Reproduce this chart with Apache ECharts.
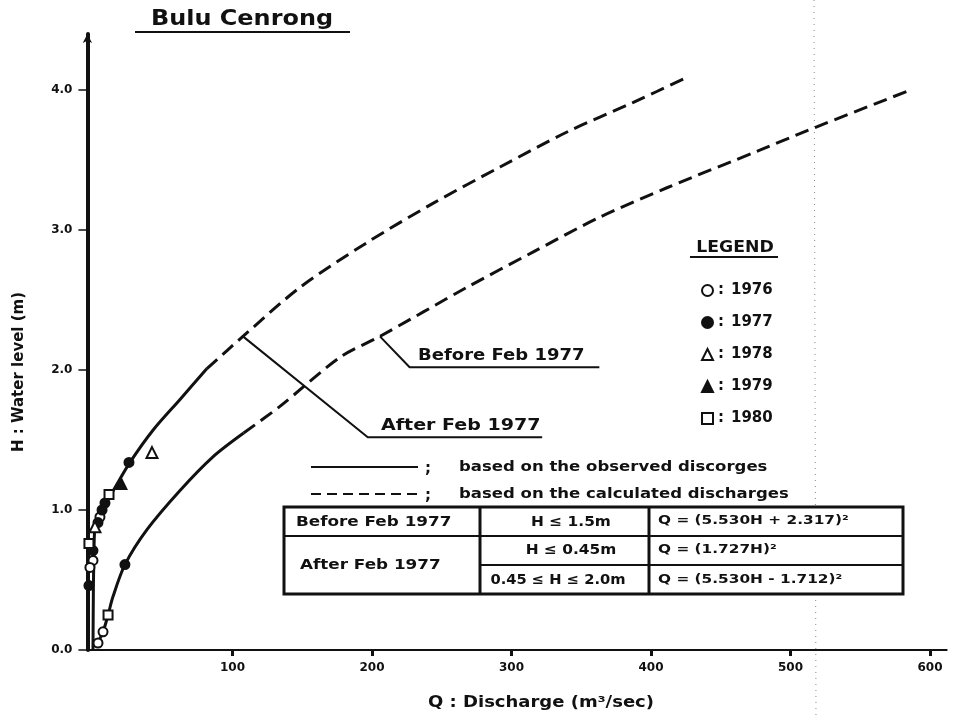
<!DOCTYPE html>
<html>
<head>
<meta charset="utf-8">
<title>Bulu Cenrong rating curves</title>
<script src="https://cdn.jsdelivr.net/npm/echarts@6/dist/echarts.min.js"></script>
<style>
  html, body { margin: 0; padding: 0; background: #fff; }
  #chart { width: 953px; height: 720px; }
</style>
</head>
<body>
<div id="chart"></div>
<script>
// ---- axis ticks ----
const xTicks = [100, 200, 300, 400, 500, 600];
const yTicks = [0, 1, 2, 3, 4];

// ---- rating curves, [Q (m3/sec), H (m)] ----
// After Feb 1977: observed (solid) part and calculated (dashed) extension
const afterObserved = [
  [0, 0], [0.3, 0.45], [0.6, 0.62], [1.4, 0.88], [6.2, 1.0], [14.6, 1.14],
  [26.5, 1.34], [43, 1.57], [62.4, 1.79], [81.7, 2.01]
];
const afterCalculated = [
  [81.7, 2.01], [107.5, 2.24], [148.4, 2.59], [196.4, 2.91], [243.7, 3.19],
  [291.8, 3.45], [339.8, 3.70], [387, 3.91], [425.8, 4.09]
];
// Before Feb 1977
const beforeObserved = [
  [2.9, 0.04], [7.2, 0.13], [10.8, 0.25], [14.3, 0.38], [22.9, 0.61],
  [38.7, 0.86], [62.4, 1.14], [86, 1.38], [108, 1.55]
];
const beforeCalculated = [
  [108, 1.55], [134, 1.74], [177, 2.09], [205.7, 2.24], [268, 2.59],
  [315, 2.84], [363, 3.09], [411, 3.30], [478, 3.57], [512, 3.71], [586, 4.0]
];

// ---- measured gaugings by year, [Q, H] ----
const pts1976 = [[5, 0.95], [0, 0.64], [-2.2, 0.59], [7.2, 0.13], [3.6, 0.05]];
const pts1977 = [[25.8, 1.34], [8.6, 1.05], [6.5, 1.0], [3.6, 0.91], [0, 0.71], [-2.9, 0.46], [22.9, 0.61]];
const pts1978 = [[42.3, 1.41], [1.4, 0.88]];
const pts1979 = [[20, 1.19]];
const pts1980 = [[11.5, 1.11], [-2.9, 0.76], [10.8, 0.25]];
const years = ['1976', '1977', '1978', '1979', '1980'];

// ---- callout leaders, [Q, H] ----
const afterLeader = [[107.5, 2.24], [197, 1.52], [322, 1.52]];
const beforeLeader = [[205.7, 2.24], [227, 2.02], [363, 2.02]];

const FONT = 'DejaVu Sans';
const INK = '#111';

function curve(data, dashed) {
  return {
    type: 'line', data: data, smooth: 0.3, symbol: 'none', showSymbol: false,
    silent: true, z: 3, clip: false,
    lineStyle: { color: INK, width: 3, type: dashed ? [14, 7] : 'solid', cap: 'butt' }
  };
}
function leader(data) {
  return {
    type: 'line', data: data, smooth: false, symbol: 'none', showSymbol: false,
    silent: true, z: 3, lineStyle: { color: INK, width: 2 }
  };
}
function gauging(name, data, symbol, filled, size) {
  return {
    type: 'scatter', name: name, data: data, symbol: symbol, symbolSize: size, z: 5,
    itemStyle: { color: filled ? INK : '#fff', borderColor: INK, borderWidth: 2, opacity: 1 }
  };
}
// text block; sx widens the lettering horizontally around its anchor
function txt(x, y, s, size, sx, align, rot) {
  return {
    type: 'text', x: x, y: y, silent: true,
    scaleX: rot ? 1 : (sx || 1), scaleY: rot ? (sx || 1) : 1,
    rotation: rot || 0,
    style: {
      text: s, fill: INK, font: 'bold ' + size + 'px "' + FONT + '"',
      align: align || 'left', textAlign: align || 'left',
      verticalAlign: 'middle', textVerticalAlign: 'middle'
    }
  };
}
function seg(x1, y1, x2, y2, w, dash) {
  return {
    type: 'line', silent: true,
    shape: { x1: x1, y1: y1, x2: x2, y2: y2 },
    style: { stroke: INK, lineWidth: w, lineDash: dash || null }
  };
}

const graphics = [
  // title
  txt(242, 20, 'Bulu Cenrong', 21, 1.14, 'center'),
  seg(135, 32, 350, 32, 2),
  // axis names
  txt(19, 372, 'H : Water level (m)', 15, 1, 'center', Math.PI / 2),
  txt(541, 703, 'Q : Discharge (m³/sec)', 15, 1.2, 'center'),
  // legend heading
  txt(735, 248, 'LEGEND', 15, 1.15, 'center'),
  seg(690, 257, 778, 257, 2),
  // line style key
  seg(311, 467, 418, 467, 2),
  txt(425, 469, ';', 15),
  txt(459, 467, 'based on the observed discorges', 14, 1.18),
  seg(311, 494, 418, 494, 2, [10, 6]),
  txt(425, 496, ';', 15),
  txt(459, 494, 'based on the calculated discharges', 14, 1.18),
  // equations table
  { type: 'rect', silent: true, shape: { x: 284, y: 507, width: 619, height: 87 },
    style: { fill: '#fff', stroke: INK, lineWidth: 3 } },
  seg(480, 507, 480, 594, 3),
  seg(649, 507, 649, 594, 3),
  seg(284, 536, 903, 536, 2),
  seg(480, 565, 903, 565, 2),
  txt(296, 522, 'Before Feb 1977', 14, 1.2),
  txt(300, 565, 'After Feb 1977', 14, 1.2),
  txt(571, 522, 'H ≤ 1.5m', 14, 1.1, 'center'),
  txt(571, 550, 'H ≤ 0.45m', 14, 1.1, 'center'),
  txt(558, 580, '0.45 ≤ H ≤ 2.0m', 14, 1.05, 'center'),
  txt(658, 521, 'Q = (5.530H + 2.317)²', 13, 1.18),
  txt(658, 550, 'Q = (1.727H)²', 13, 1.18),
  txt(658, 580, 'Q = (5.530H - 1.712)²', 13, 1.18),
  // callout captions
  txt(418, 356, 'Before Feb 1977', 15, 1.2),
  txt(381, 426, 'After Feb 1977', 15, 1.27)
];
// crease line running down the sheet
graphics.push({
  type: 'line', silent: true, z: -1, shape: { x1: 814, y1: 0, x2: 816, y2: 720 },
  style: { stroke: '#555', lineWidth: 1, lineDash: [1, 5], opacity: 0.7 }
});

const option = {
  backgroundColor: '#fff',
  animation: false,
  textStyle: { fontFamily: FONT },
  grid: { left: 87.4, right: 6.3, top: 34, bottom: 70, containLabel: false, outerBoundsMode: 'none' },
  xAxis: {
    type: 'value', min: -4, max: 612,
    splitLine: { show: false },
    axisLine: { show: true, onZero: false, lineStyle: { color: INK, width: 2 } },
    axisTick: { show: true, customValues: xTicks, length: 6, lineStyle: { color: INK, width: 3 } },
    axisLabel: { customValues: xTicks, color: INK, fontWeight: 'bold', fontSize: 12, margin: 12, fontFamily: FONT }
  },
  yAxis: {
    type: 'value', min: 0, max: 4.4,
    splitLine: { show: false },
    axisLine: {
      show: true, onZero: false, symbol: ['none', 'arrow'], symbolSize: [7, 9],
      lineStyle: { color: INK, width: 4 }
    },
    axisTick: { show: true, customValues: yTicks, length: 9, lineStyle: { color: INK, width: 1.5 } },
    axisLabel: {
      customValues: yTicks, color: INK, fontWeight: 'bold', fontSize: 12, margin: 15, fontFamily: FONT,
      formatter: function (v) { return v.toFixed(1); }
    }
  },
  legend: {
    data: years, orient: 'vertical', left: 696, top: 278,
    itemWidth: 11, itemHeight: 11, itemGap: 17, selectedMode: false,
    formatter: function (n) { return '{c|:}{y|' + n + '}'; },
    textStyle: {
      color: INK, fontFamily: FONT, fontWeight: 'bold', fontSize: 15,
      rich: {
        c: { width: 13, color: INK, fontFamily: FONT, fontWeight: 'bold', fontSize: 15 },
        y: { color: INK, fontFamily: FONT, fontWeight: 'bold', fontSize: 15 }
      }
    }
  },
  series: [
    curve(afterObserved, false),
    curve(afterCalculated, true),
    curve(beforeObserved, false),
    curve(beforeCalculated, true),
    leader(afterLeader),
    leader(beforeLeader),
    gauging('1976', pts1976, 'circle', false, 9),
    gauging('1977', pts1977, 'circle', true, 9),
    gauging('1978', pts1978, 'triangle', false, 11),
    gauging('1979', pts1979, 'triangle', true, 11),
    gauging('1980', pts1980, 'rect', false, 9)
  ],
  graphic: graphics
};

const chart = echarts.init(document.getElementById('chart'));
chart.setOption(option);
</script>
</body>
</html>
